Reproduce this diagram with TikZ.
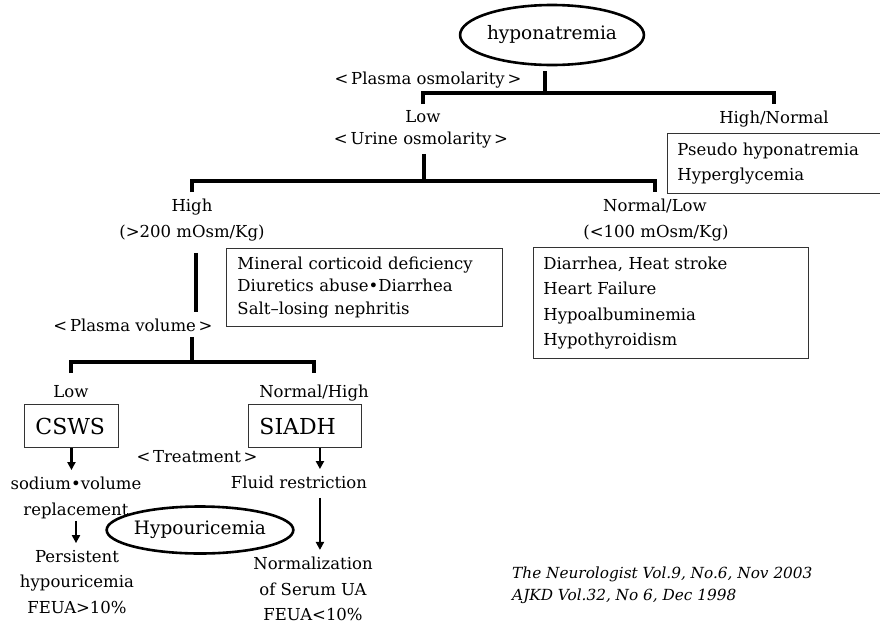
\documentclass[tikz,border=0pt]{standalone}
\usepackage{fontspec}
\setmainfont{DejaVu Serif}
\usetikzlibrary{shapes.geometric,arrows.meta}
\tikzstyle{txt}=[inner sep=2pt,text height=12pt,text depth=3.5pt,font=\fontsize{16.5}{20}\selectfont]
\tikzstyle{lines}=[inner sep=2pt,align=center,font=\fontsize{16.5}{25.5}\selectfont]
\tikzstyle{oval}=[ellipse,draw,line width=2.6pt,inner sep=0pt,font=\fontsize{18.5}{20}\selectfont]
\tikzstyle{listbox}=[draw=black!80,line width=0.9pt,anchor=north west,align=left,inner xsep=10pt,inner ysep=2pt]
\tikzstyle{dxbox}=[draw=black!80,line width=0.9pt,anchor=west,align=left,inner xsep=11pt,minimum height=43pt,font=\fontsize{22}{24}\selectfont]
\tikzstyle{tree}=[line width=3.3pt]
\tikzstyle{arr}=[line width=2.3pt,shorten >=5pt,-{Triangle[length=8pt,width=8pt]}]
\tikzstyle{cite}=[anchor=north west,align=left,inner sep=2pt,font=\fontsize{15.3}{22}\selectfont\itshape]

\begin{document}
\begin{tikzpicture}[x=1pt,y=-1pt]
    \useasboundingbox (0,0) rectangle (880,627);
    % top level
    \node[oval,minimum width=161pt,minimum height=60pt] (hypo) at (552,35) {hyponatremia};
    \node[txt] (posm) at (428,80) {<\,Plasma osmolarity\,>};
    \node[txt] (low1) at (423,118) {Low};
    \node[txt] (uosm) at (421,140) {<\,Urine osmolarity\,>};
    \node[txt] (hn) at (774,119) {High/Normal};
    \node[listbox,text width=198pt,minimum height=60pt,font=\fontsize{16.5}{25}\selectfont] (pseudo) at (667,133) {Pseudo hyponatremia\\Hyperglycemia};

    % urine osmolarity
    \node[txt] (hi) at (192,207) {High};
    \node[txt] (hiosm) at (192,233) {(>200 mOsm/Kg)};
    \node[txt] (nl) at (655,207) {Normal/Low};
    \node[txt] (nlosm) at (656,233) {(<100 mOsm/Kg)};
    \node[listbox,text width=254pt,inner xsep=11pt,minimum height=78pt,font=\fontsize{16.5}{22.5}\selectfont] (renal) at (226,248) {Mineral corticoid deficiency\\Diuretics abuse\textbullet Diarrhea\\Salt--losing nephritis};
    \node[listbox,text width=255pt,minimum height=111pt,font=\fontsize{16.5}{25.5}\selectfont] (extra) at (533,247) {Diarrhea, Heat stroke\\Heart Failure\\Hypoalbuminemia\\Hypothyroidism};

    % plasma volume
    \node[txt] (pvol) at (133,327) {<\,Plasma volume\,>};
    \node[txt] (low2) at (71,393) {Low};
    \node[txt] (nh) at (314,393) {Normal/High};
    \node[dxbox,text width=72pt] (csws) at (24,426) {CSWS};
    \node[dxbox,text width=91pt] (siadh) at (248,426) {SIADH};
    \node[txt] (treat) at (197,458) {<\,Treatment\,>};
    \node[lines] (sv) at (76,498) {sodium\textbullet volume\\replacement};
    \node[lines] (pers) at (77,582) {Persistent\\hypouricemia\\FEUA>10\%};
    \node[txt] (fr) at (299,484) {Fluid restriction};
    \node[lines] (norm) at (313,589) {Normalization\\of Serum UA\\FEUA<10\%};
    \node[oval,minimum width=166pt,minimum height=47pt] (hua) at (200,530) {Hypouricemia};

    \node[cite] (ref) at (510,565) {The Neurologist Vol.9, No.6, Nov 2003\\AJKD Vol.32, No 6, Dec 1998};

    % branch points
    \coordinate (j1) at (545,93);
    \coordinate (j2) at (424,181);
    \coordinate (j3) at (192,362);

    \draw[tree] ([yshift=-5pt]hypo.south -| j1) -- (j1);
    \draw[tree] ([yshift=4pt]low1.north) |- (j1) -| ([yshift=5pt]hn.north);
    \draw[tree] ([yshift=-4pt]uosm.south -| j2) -- (j2);
    \draw[tree] ([yshift=5pt]hi.north) |- (j2) -| ([yshift=5pt]nl.north);
    \draw[tree] ([xshift=4pt,yshift=-10pt]hiosm.south) -- ([xshift=4pt,yshift=5pt]hiosm.south |- pvol.north);
    \draw[tree] (pvol.south -| j3) -- (j3);
    \draw[tree] ([yshift=10pt]low2.north) |- (j3) -| ([yshift=10pt]nh.north);

    \foreach \from/\to in {csws/sv,sv/pers}
    \draw[arr] (\from.south) -- (\from.south |- \to.north);
    \draw[arr] ([xshift=15pt]siadh.south) -- ([xshift=15pt]siadh.south |- fr.north);
    \draw[arr,shorten <=4pt] ([xshift=15pt]siadh.south |- fr.south) -- ([xshift=15pt]siadh.south |- norm.north);
\end{tikzpicture}
\end{document}
